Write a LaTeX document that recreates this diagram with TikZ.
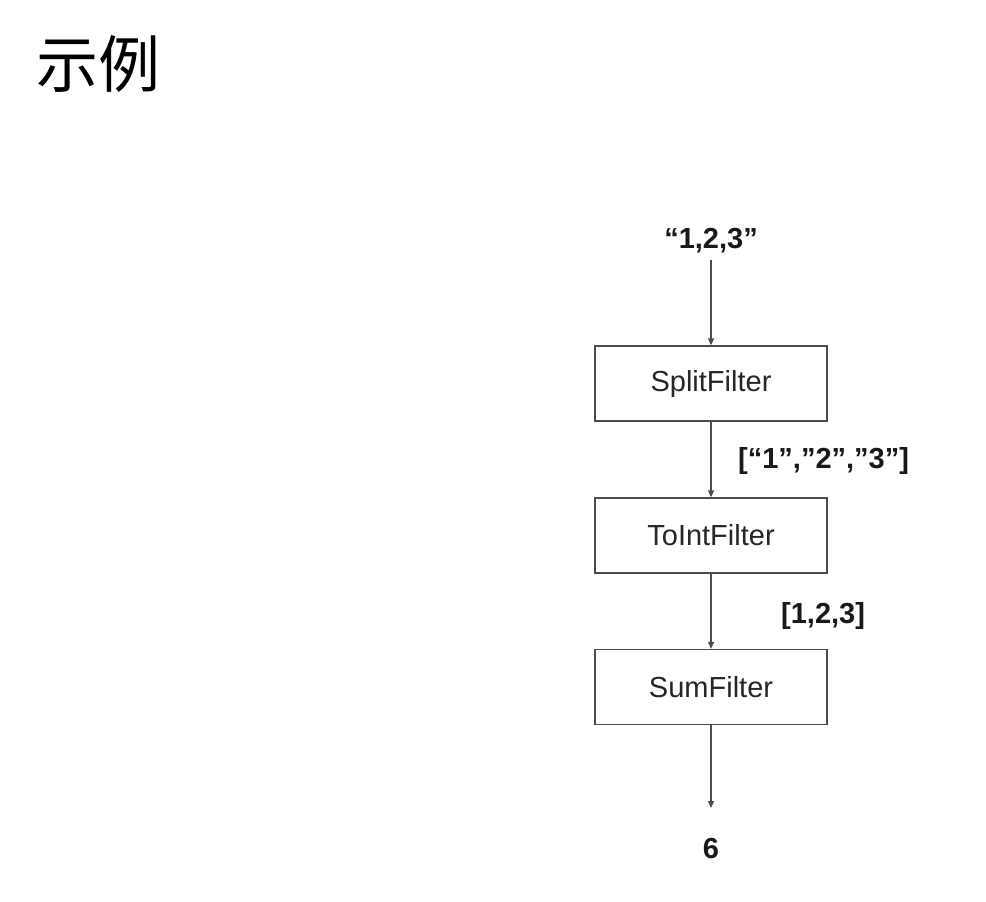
\documentclass[tikz,border=0pt]{standalone}
\usepackage{fontspec}
\setmainfont{Liberation Sans}
\newfontfamily\cjk{Noto Sans CJK SC}
\usetikzlibrary{arrows.meta}
\tikzset{
  filterbox/.style={draw=black!70, line width=1.3pt, minimum width=232pt, minimum height=75pt, inner sep=0pt, font=\fontsize{29}{33}\selectfont, text=black!85},
  datalabel/.style={font=\bfseries\fontsize{29}{33}\selectfont, inner sep=0pt, anchor=base, text=black!90},
  flow/.style={draw=black!70, line width=1.3pt, -{Triangle[length=7pt,width=6pt]}}
}
\begin{document}
\begin{tikzpicture}[x=1pt,y=-1pt]
\useasboundingbox[fill=white] (0,0) rectangle (986,902);
\node[font=\cjk\fontsize{62}{66}\selectfont, anchor=west, inner sep=0pt] (title) at (36,64) {示例};
\node[datalabel] (in) at (711,248) {“1,2,3”};
\node[filterbox] (split) at (711,383.5) {SplitFilter};
\node[filterbox] (toint) at (711,535.5) {ToIntFilter};
\node[filterbox] (sum) at (711,687) {SumFilter};
\node[datalabel] (out) at (711,858) {6};
\coordinate (instart) at (711,260);
\coordinate (outend) at (711,808);
\node[datalabel, anchor=base west] (l1) at (738,468) {[“1”,”2”,”3”]};
\node[datalabel, anchor=base west] (l2) at (781,623) {[1,2,3]};
\draw[flow] (instart) -- (split.north);
\draw[flow] (split.south) -- (toint.north);
\draw[flow] (toint.south) -- (sum.north);
\draw[flow] (sum.south) -- (outend);
\end{tikzpicture}
\end{document}
